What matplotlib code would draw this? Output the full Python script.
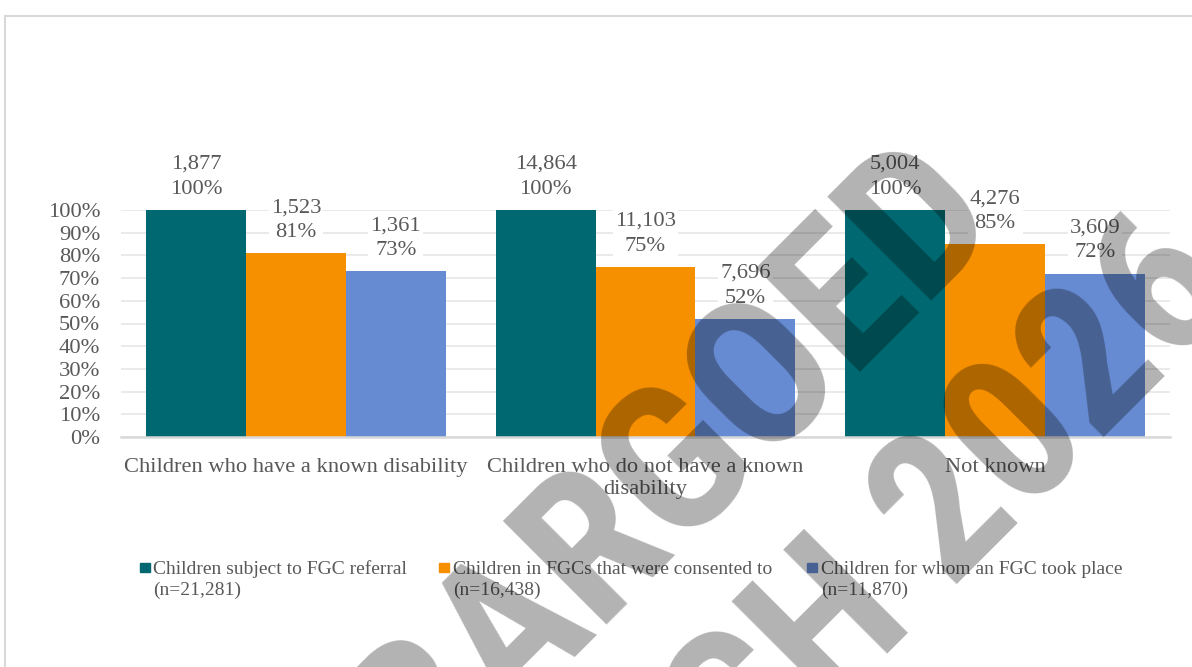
import numpy as np
import matplotlib
matplotlib.use("Agg")
import matplotlib.pyplot as plt
from matplotlib.lines import Line2D
from matplotlib.patches import Rectangle

plt.rcParams['font.family'] = ['Liberation Serif', 'DejaVu Serif']

# data
categories = ["Children who have a known disability",
              "Children who do not have a known\ndisability",
              "Not known"]
series = ["Children subject to FGC referral\n(n=21,281)",
          "Children in FGCs that were consented to\n(n=16,438)",
          "Children for whom an FGC took place\n(n=11,870)"]
referral_n = [1877, 14864, 5004]
referral_pct = [100, 100, 100]
consented_n = [1523, 11103, 4276]
consented_pct = [81, 75, 85]
tookplace_n = [1361, 7696, 3609]
tookplace_pct = [73, 52, 72]
colors = ['#006870', '#F79000', '#668BD2']

W, H = 1192, 667
fig = plt.figure(figsize=(W / 100, H / 100), dpi=100)
ax = fig.add_axes([121 / W, 1 - 437 / H, (1170 - 121) / W, 227 / H])

x = np.arange(len(categories))
w = 100 / 350
txt = '#595959'
fs = 16.2
counts = [referral_n, consented_n, tookplace_n]
pcts = [referral_pct, consented_pct, tookplace_pct]
for i in range(3):
    xs = x + (i - 1) * w
    ax.bar(xs, np.array(pcts[i]) / 100, width=w, color=colors[i],
           label=series[i], zorder=2)
    for xi, n, p in zip(xs, counts[i], pcts[i]):
        ax.annotate(f"{n:,}\n{p}%", (xi, p / 100), xytext=(0, 8),
                    textcoords='offset points', ha='center', va='bottom',
                    fontsize=fs, color=txt, linespacing=1.42,
                    bbox=dict(fc='white', ec='none', pad=1.5),
                    zorder=3, annotation_clip=False)

ax.set_xlim(-0.5, 2.5)
ax.set_ylim(0, 1)
ticks = np.arange(0, 1.01, 0.1)
ax.set_yticks(ticks)
ax.set_yticklabels([f"{int(round(t * 100))}%" for t in ticks])
ax.set_xticks(x)
ax.set_xticklabels(categories, linespacing=1.2)
ax.tick_params(axis='both', length=0, labelsize=fs, labelcolor=txt)
ax.tick_params(axis='y', pad=15)
ax.tick_params(axis='x', pad=15)
ax.set_axisbelow(True)
ax.yaxis.grid(color='#E8E8E8', lw=1.3)
for s in ['top', 'right', 'left']:
    ax.spines[s].set_visible(False)
ax.spines['bottom'].set_color('#D9D9D9')
ax.spines['bottom'].set_linewidth(1.8)

# legend, laid out like the Excel one (marker beside first line)
leg_marker_x = [140, 439, 807]
leg_text_x = [153, 453, 821]
for i in range(3):
    fig.add_artist(Rectangle((leg_marker_x[i] / W, 1 - 572 / H), 9.5 / W, 9.5 / H,
                             transform=fig.transFigure, color=colors[i], zorder=5))
    # va='baseline' on multi-line text uses the last line
    fig.text(leg_text_x[i] / W, 1 - 595 / H, series[i], fontsize=14, color=txt,
             ha='left', va='baseline', linespacing=1.3, zorder=5)

# outer chart frame
fig.add_artist(Line2D([4.5 / W, 4.5 / W], [0, 1 - 15.5 / H], transform=fig.transFigure,
                      color='#D9D9D9', lw=1.5))
fig.add_artist(Line2D([4.5 / W, 1], [1 - 15.5 / H, 1 - 15.5 / H], transform=fig.transFigure,
                      color='#D9D9D9', lw=1.5))

# watermark
wm_font = ['Liberation Sans Narrow', 'Roboto Condensed', 'Roboto', 'DejaVu Sans']
fig.text(584 / W, 1 - 556 / H, "EMBARGOED", rotation=45, fontsize=148,
         fontweight='bold', family=wm_font, color='black', alpha=0.3,
         ha='center', va='center', rotation_mode='anchor', zorder=10)
fig.text(816 / W, 1 - 645 / H, "MARCH 2026", rotation=45, fontsize=148,
         fontweight='bold', family=wm_font, color='black', alpha=0.3,
         ha='center', va='center', rotation_mode='anchor', zorder=10)

fig.savefig('out.png', dpi=100)
